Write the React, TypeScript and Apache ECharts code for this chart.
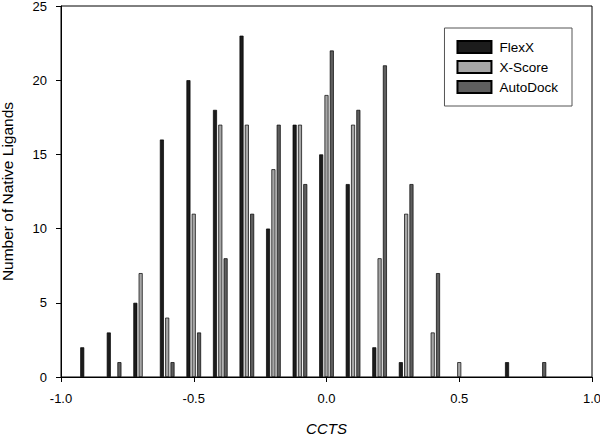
import React, { useEffect, useRef } from "react";
import * as echarts from "echarts";

const binCenters = [-0.9, -0.8, -0.7, -0.6, -0.5, -0.4, -0.3, -0.2, -0.1, 0.0, 0.1, 0.2, 0.3, 0.4, 0.5, 0.6, 0.7, 0.8];
const flexX = [2, 3, 5, 16, 20, 18, 23, 10, 17, 15, 13, 2, 1, 0, 0, 0, 1, 0];
const xScore = [0, 0, 7, 4, 11, 17, 17, 14, 17, 19, 17, 8, 11, 3, 1, 0, 0, 0];
const autoDock = [0, 1, 0, 1, 3, 8, 11, 17, 13, 22, 18, 21, 13, 7, 0, 0, 0, 1];
const seriesNames = ["FlexX", "X-Score", "AutoDock"];
const seriesOffsets = [-0.02, 0, 0.02];
const seriesColors = ["#1c1c1c", "#a6a6a6", "#5e5e5e"];

const FONT = "'Liberation Sans', Arial, Helvetica, sans-serif";

export default function App() {
  const ref = useRef<HTMLDivElement>(null);
  useEffect(() => {
    document.body.style.margin = "0";
    if (!ref.current) return;
    const chart = echarts.init(ref.current, undefined, { renderer: "svg" });
    const all = [flexX, xScore, autoDock];
    const series = all.map((vals, si) => ({
      name: seriesNames[si],
      type: "bar",
      barWidth: 4,
      barGap: "-100%",
      itemStyle: { color: seriesColors[si], borderColor: "#000", borderWidth: 0.7 },
      data: vals.map((v, i) => [binCenters[i] + seriesOffsets[si], v > 0 ? v : "-"]),
    }));
    chart.setOption({
      animation: false,
      textStyle: { fontFamily: FONT },
      grid: {
        left: 61,
        right: 8,
        top: 6,
        bottom: 59,
        show: true,
        borderColor: "#000",
        borderWidth: 1,
        containLabel: false,
        outerBoundsMode: "none",
      },
      legend: {
        orient: "vertical",
        right: 28,
        top: 28,
        data: seriesNames,
        icon: "rect",
        itemWidth: 34,
        itemHeight: 12,
        itemGap: 6,
        padding: [12, 14, 12, 12],
        borderColor: "#555",
        borderWidth: 1,
        textStyle: { fontSize: 13.5, color: "#000", fontFamily: FONT, padding: [0, 0, 0, 3] },
      },
      xAxis: {
        type: "value",
        min: -1,
        max: 1,
        interval: 0.5,
        splitLine: { show: false },
        axisLine: { onZero: false, lineStyle: { color: "#000" } },
        axisTick: { show: true, length: 5, lineStyle: { color: "#000" } },
        axisLabel: { color: "#000", fontSize: 13, margin: 15, formatter: (v: number) => v.toFixed(1) },
        name: "CCTS",
        nameLocation: "middle",
        nameGap: 45,
        nameTextStyle: { fontStyle: "italic", fontSize: 15, lineHeight: 13, color: "#000", fontFamily: FONT },
      },
      yAxis: {
        type: "value",
        min: 0,
        max: 25,
        interval: 5,
        splitLine: { show: false },
        axisLine: { show: true, onZero: false, lineStyle: { color: "#000" } },
        axisTick: { show: true, length: 5, lineStyle: { color: "#000" } },
        axisLabel: { color: "#000", fontSize: 13, lineHeight: 11, margin: 14 },
        name: "Number of Native Ligands",
        nameLocation: "middle",
        nameGap: 46,
        nameTextStyle: { fontSize: 15.5, color: "#000", fontFamily: FONT },
      },
      series,
    });
    return () => chart.dispose();
  }, []);
  return <div ref={ref} style={{ width: 600, height: 436 }} />;
}
